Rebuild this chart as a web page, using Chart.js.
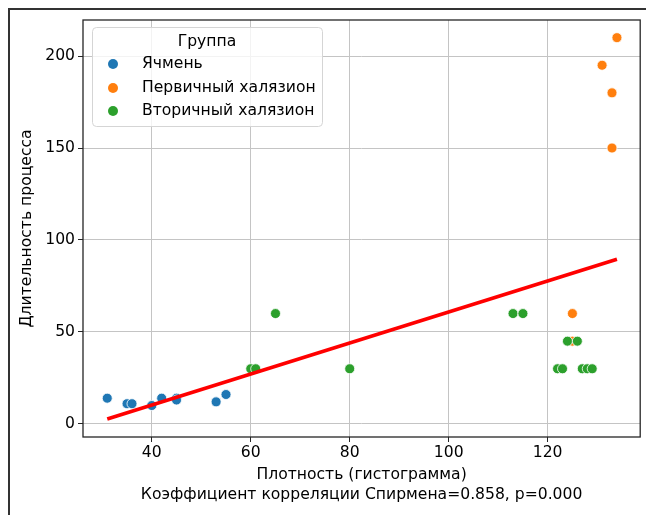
<!DOCTYPE html>
<html>
<head>
<meta charset="utf-8">
<script src="https://cdn.jsdelivr.net/npm/chart.js@4/dist/chart.umd.min.js"></script>
<style>
  html, body { margin: 0; padding: 0; background: #fff; }
  #wrap { position: relative; width: 646px; height: 515px; overflow: hidden; }
  #frame { position: absolute; left: 8px; top: 8px; width: 700px; height: 600px;
           border-left: 2px solid #333; border-top: 2px solid #333; }
  canvas { position: absolute; left: 0; top: 0; }
</style>
</head>
<body>
<div id="wrap">
  <div id="frame"></div>
  <canvas id="c" width="646" height="515"></canvas>
</div>
<script>
// Ячмень
const barleyX = [31, 35, 36, 40, 42, 45, 45, 53, 55];
const barleyY = [14, 11, 11, 10, 14, 14, 13, 12, 16];
// Первичный халязион
const primaryX = [134, 131, 133, 133, 125, 125];
const primaryY = [210, 195, 180, 150, 60, 45];
// Вторичный халязион
const secondaryX = [113, 115, 124, 126, 122, 123, 127, 128, 129, 65, 60, 61, 80];
const secondaryY = [60, 60, 45, 45, 30, 30, 30, 30, 30, 60, 30, 30, 30];
// regression line end points
const fitX = [31, 134];
const fitY = [2.7, 89.5];

const groupNames = ['Ячмень', 'Первичный халязион', 'Вторичный халязион'];
const xTicks = [40, 60, 80, 100, 120];
const yTicks = [0, 50, 100, 150, 200];

const xTitle = ['Плотность (гистограмма)', 'Коэффициент корреляции Спирмена=0.858, p=0.000'];
const yTitle = 'Длительность процесса';
const legendTitle = 'Группа';

const colors = ['#1f77b4', '#ff7f0e', '#2ca02c'];
const FONT = "'DejaVu Sans', sans-serif";
const FS = 15.6;

const toPoints = (xs, ys) => xs.map((x, i) => ({ x: x, y: ys[i] }));

function scatterSet(label, xs, ys, color, order) {
  return {
    type: 'scatter',
    label: label,
    data: toPoints(xs, ys),
    backgroundColor: color,
    borderColor: '#ffffff',
    borderWidth: 0.8,
    pointRadius: 5,
    pointHoverRadius: 5,
    order: order
  };
}

const spines = {
  id: 'spines',
  afterDatasetsDraw(chart) {
    const a = chart.chartArea, ctx = chart.ctx;
    ctx.save();
    ctx.strokeStyle = '#262626';
    ctx.lineWidth = 1.3;
    ctx.strokeRect(a.left, a.top, a.right - a.left, a.bottom - a.top);
    ctx.restore();
  }
};

const boxLegend = {
  id: 'boxLegend',
  afterDraw(chart) {
    const ctx = chart.ctx;
    const x0 = 92, y0 = 27, w = 230, h = 99, r = 4;
    ctx.save();
    ctx.beginPath();
    ctx.roundRect(x0 + 0.5, y0 + 0.5, w, h, r);
    ctx.fillStyle = 'rgba(255,255,255,0.8)';
    ctx.fill();
    ctx.strokeStyle = '#d5d5d5';
    ctx.lineWidth = 1;
    ctx.stroke();
    ctx.font = FS + 'px ' + FONT;
    ctx.fillStyle = '#000';
    ctx.textBaseline = 'middle';
    ctx.textAlign = 'center';
    ctx.fillText(legendTitle, 207, 42);
    ctx.textAlign = 'left';
    const rows = [64, 88, 111];
    chart.data.datasets.slice(0, 3).forEach((ds, i) => {
      ctx.beginPath();
      ctx.arc(113, rows[i], 5, 0, Math.PI * 2);
      ctx.fillStyle = ds.backgroundColor;
      ctx.fill();
      ctx.fillStyle = '#000';
      ctx.fillText(ds.label, 142, rows[i]);
    });
    ctx.restore();
  }
};

new Chart(document.getElementById('c'), {
  data: {
    datasets: [
      scatterSet(groupNames[0], barleyX, barleyY, colors[0], 3),
      scatterSet(groupNames[1], primaryX, primaryY, colors[1], 2),
      scatterSet(groupNames[2], secondaryX, secondaryY, colors[2], 1),
      {
        type: 'line',
        label: 'fit',
        data: toPoints(fitX, fitY),
        borderColor: '#ff0000',
        borderWidth: 3.6,
        pointRadius: 0,
        fill: false,
        order: 0
      }
    ]
  },
  options: {
    responsive: false,
    animation: false,
    devicePixelRatio: 1,
    layout: { padding: { left: 0, right: 3, top: 20, bottom: 0 } },
    plugins: {
      legend: { display: false },
      tooltip: { enabled: false }
    },
    scales: {
      x: {
        type: 'linear',
        min: 26.1,
        max: 138.7,
        afterBuildTicks(s) { s.ticks = xTicks.map(v => ({ value: v })); },
        afterFit(s) { s.height = 78; },
        grid: { color: '#c4c4c4', lineWidth: 1, tickColor: '#262626', tickLength: 5 },
        border: { display: false },
        ticks: { color: '#000', font: { family: FONT, size: FS }, padding: 2, maxRotation: 0 },
        title: {
          display: true,
          text: xTitle,
          color: '#000',
          font: { family: FONT, size: FS, lineHeight: 20 / FS },
          padding: { top: 0, bottom: 10 }
        }
      },
      y: {
        type: 'linear',
        min: -7.1,
        max: 219.6,
        afterBuildTicks(s) { s.ticks = yTicks.map(v => ({ value: v })); },
        afterFit(s) { s.width = 83; },
        grid: { color: '#c4c4c4', lineWidth: 1, tickColor: '#262626', tickLength: 5 },
        border: { display: false },
        ticks: { color: '#000', font: { family: FONT, size: FS }, padding: 3 },
        title: {
          display: true,
          text: yTitle,
          color: '#000',
          font: { family: FONT, size: FS, lineHeight: 20 / FS },
          padding: { top: 17, bottom: 0 }
        }
      }
    }
  },
  plugins: [spines, boxLegend]
});
</script>
</body>
</html>
